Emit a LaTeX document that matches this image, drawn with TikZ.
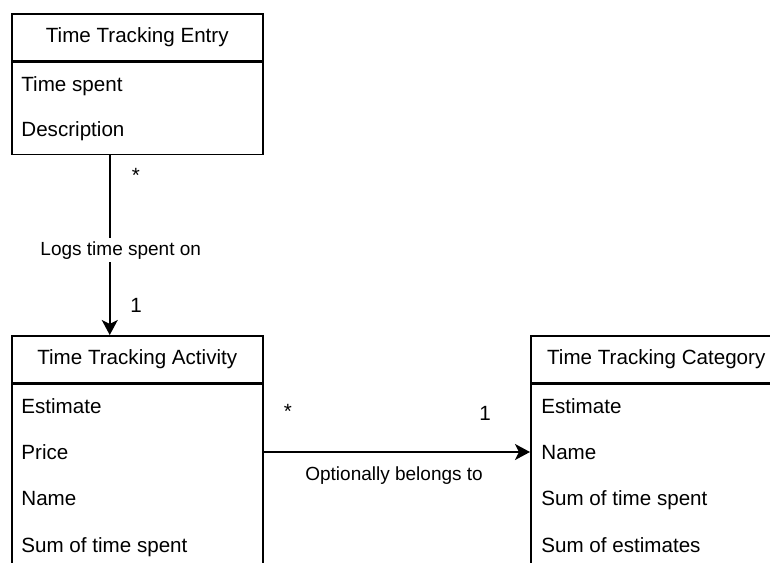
\documentclass[tikz,border=0pt]{standalone}
\usepackage{fontspec}
\setmainfont{Liberation Sans}
\usetikzlibrary{arrows.meta,positioning}

\tikzset{
    head/.style={draw=black, line width=0.75pt, anchor=north west, inner sep=0pt,
        minimum width=125.5pt, minimum height=23.5pt, text height=7.4pt, text depth=2.2pt,
        font=\fontsize{10.3}{12}\selectfont},
    body/.style={draw=black, line width=0.75pt, anchor=north west, inner sep=0pt,
        minimum width=125.5pt},
    field/.style={anchor=west, inner sep=0pt, yshift=-1pt, text height=7.4pt, text depth=2.2pt,
        font=\fontsize{10.3}{12}\selectfont},
    assoc/.style={draw=black, line width=0.75pt, -{Stealth[length=7.5pt,width=8pt,inset=2pt]}},
    lbl/.style={fill=white, inner sep=1.5pt, text height=7pt, text depth=2pt,
        font=\fontsize{9.5}{11}\selectfont},
    mult/.style={inner sep=0pt, font=\fontsize{10.3}{12}\selectfont},
}

\begin{document}
\begin{tikzpicture}[x=0.5pt, y=-0.5pt]
    \useasboundingbox (0,0) rectangle (770,562);
    \clip (0,0) rectangle (770,562);

    % entry
    \node[head] (entryhead) at (11,13) {Time Tracking Entry};
    \node[body, minimum height=46pt] (entrybody) at (entryhead.south west) {};
    \node[field] (spent) at (21,84) {Time spent};
    \node[field] (descr) at (21,129) {Description};

    % activity
    \node[head] (acthead) at (11,335) {Time Tracking Activity};
    \node[body, minimum height=120pt] (actbody) at (acthead.south west) {};
    \node[field] (actest) at (21,406) {Estimate};
    \node[field] (price) at (21,452) {Price};
    \node[field] (actname) at (21,498) {Name};
    \node[field] (actsum) at (21,545) {Sum of time spent};

    % category
    \node[head] (cathead) at (530,335) {Time Tracking Category};
    \node[body, minimum height=120pt] (catbody) at (cathead.south west) {};
    \node[field] (catest) at (541,406) {Estimate};
    \node[field] (catname) at (541,452) {Name};
    \node[field] (catsum) at (541,498) {Sum of time spent};
    \node[field] (catsumest) at (541,545) {Sum of estimates};

    % associations
    \draw[assoc] ([xshift=-13.75pt]entrybody.south) -- ([xshift=-13.75pt]acthead.north)
        node[lbl, pos=0.53, xshift=5.5pt] (logs) {Logs time spent on};
    \node[mult] (logsmany) at (136,175) {*};
    \node[mult] (logsone) at (136,305) {1};

    \draw[assoc] ([yshift=1pt]price.west -| actbody.east) -- ([yshift=1pt]catname.west -| catbody.west)
        node[lbl, pos=0.49, below=5.5pt] (belongs) {Optionally belongs to};
    \node[mult] (belongsmany) at (288,411) {*};
    \node[mult] (belongsone) at (485,413) {1};
\end{tikzpicture}
\end{document}
